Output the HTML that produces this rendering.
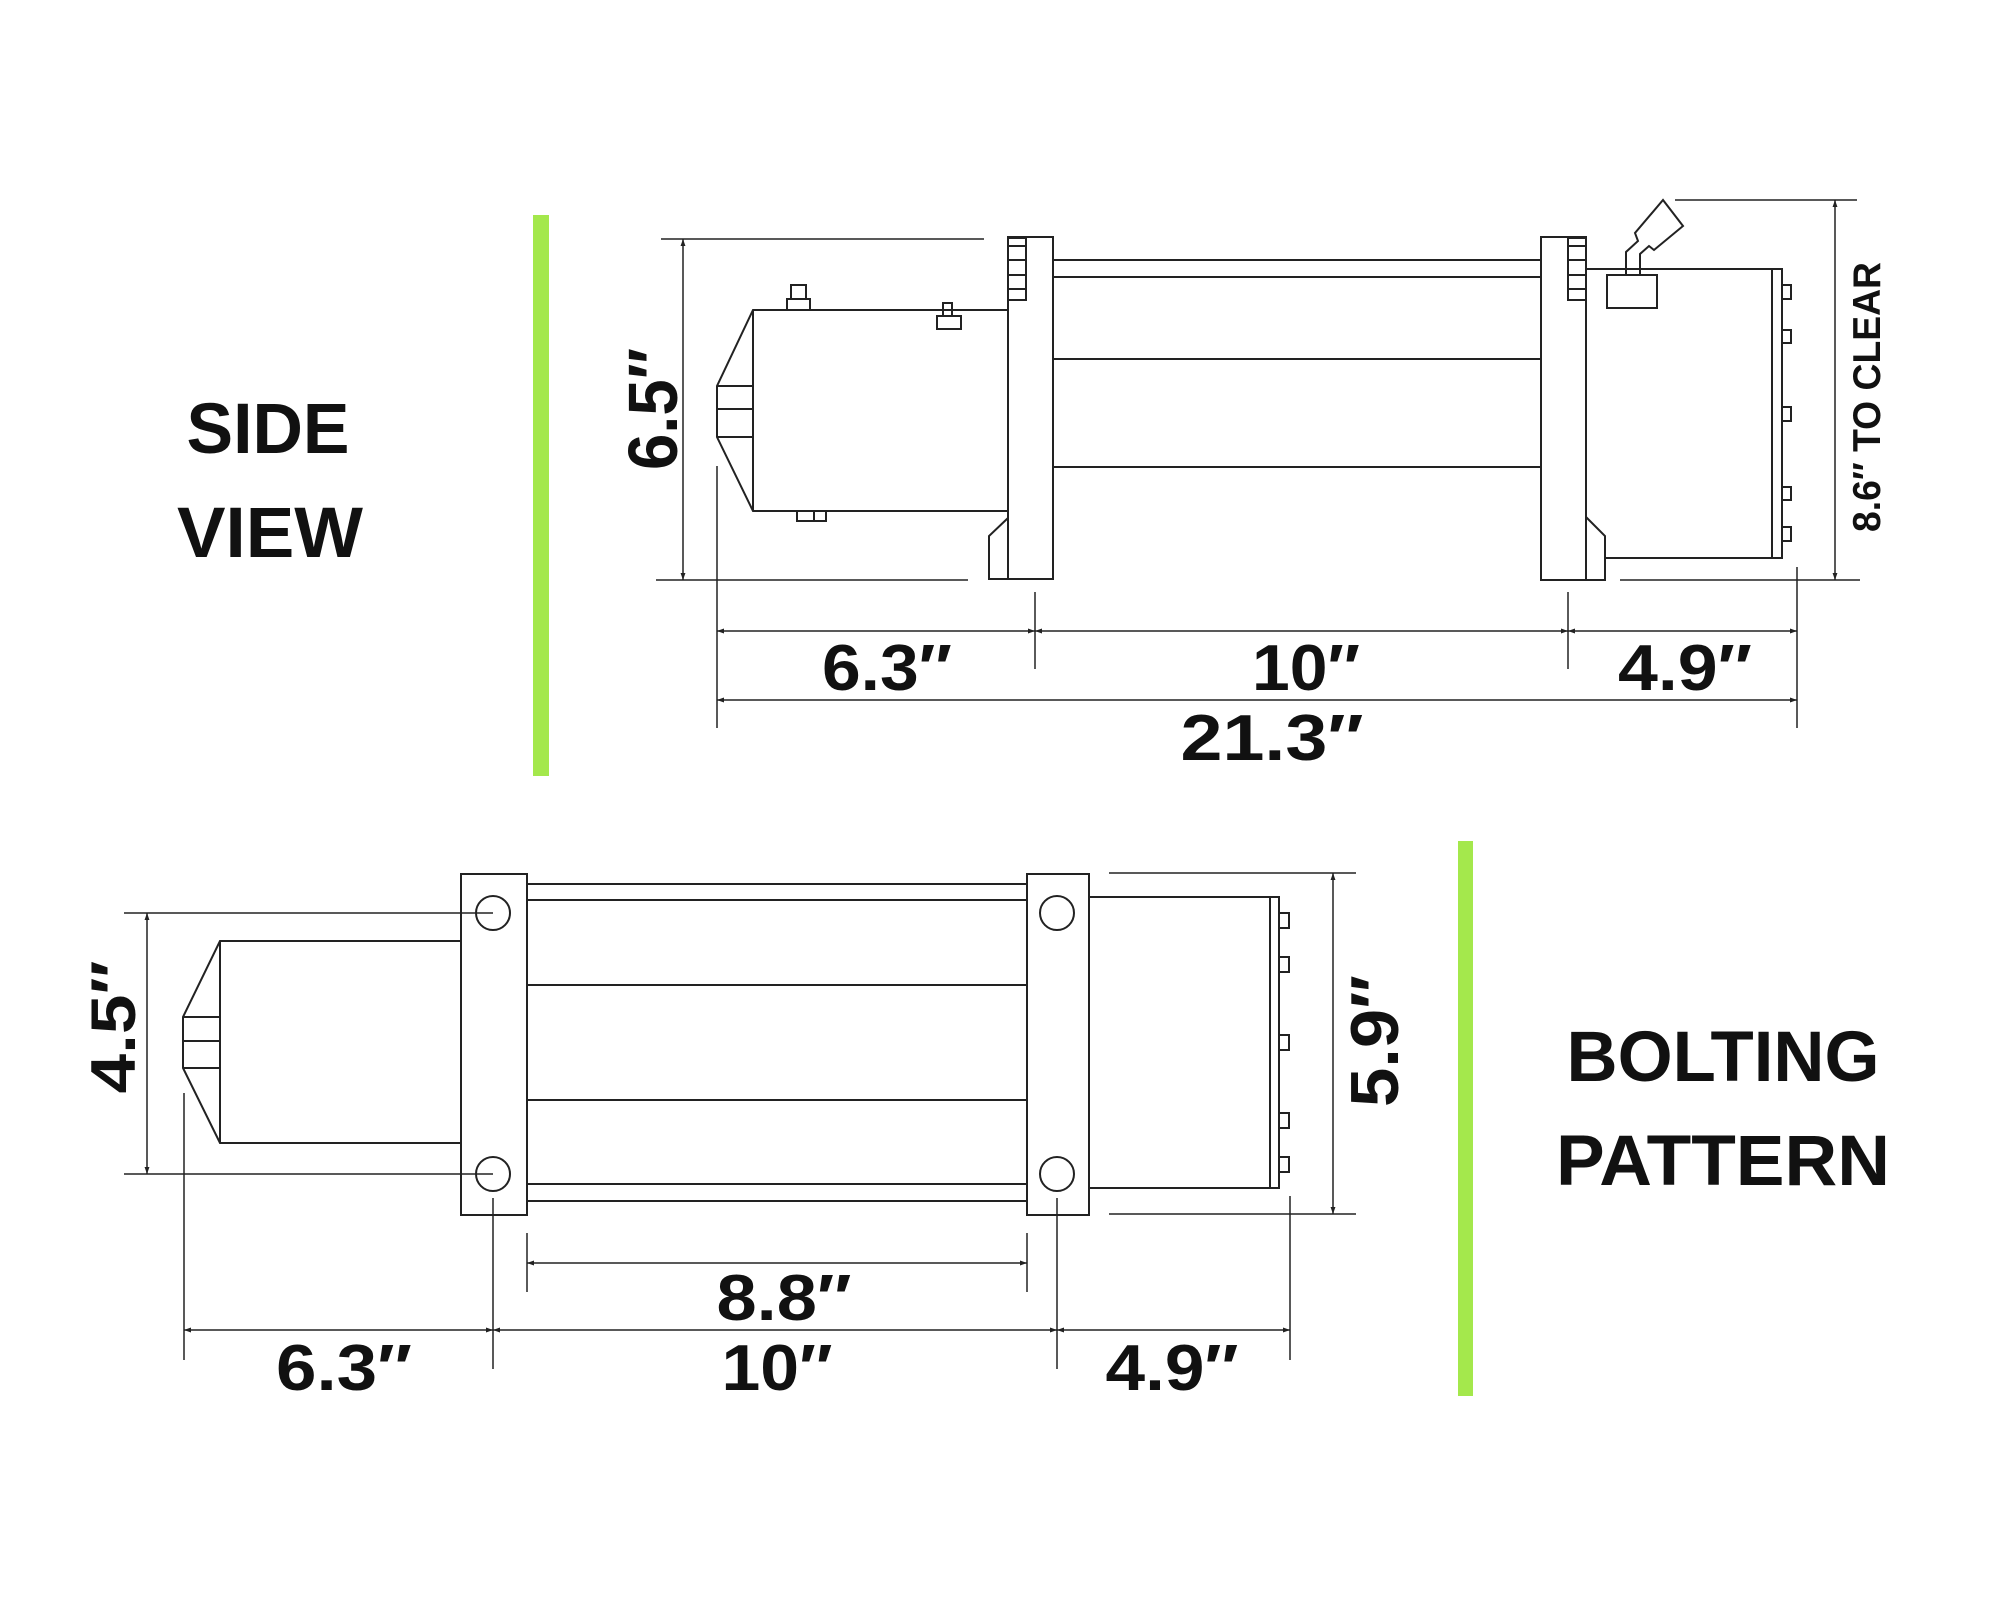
<!DOCTYPE html>
<html><head><meta charset="utf-8"><style>
html,body{margin:0;padding:0;background:#fff;}
svg{display:block;}
text{font-family:"Liberation Sans",Arial,sans-serif;font-weight:bold;fill:#111;}
</style></head><body>
<svg width="2000" height="1600" viewBox="0 0 2000 1600" xmlns="http://www.w3.org/2000/svg">
<defs>
<marker id="a" viewBox="0 0 10 10" refX="10" refY="5" markerWidth="7" markerHeight="7" orient="auto-start-reverse" markerUnits="userSpaceOnUse"><path d="M0,1.5 L10,5 L0,8.5 z" fill="#222"/></marker>
</defs>
<rect width="2000" height="1600" fill="#fff"/>
<!-- green bars -->
<rect x="533" y="215" width="16" height="561" fill="#a4e84c"/>
<rect x="1458" y="841" width="15" height="555" fill="#a4e84c"/>

<!-- titles -->
<text x="268" y="453" font-size="71" text-anchor="middle" textLength="163" lengthAdjust="spacingAndGlyphs">SIDE</text>
<text x="270" y="557" font-size="71" text-anchor="middle" textLength="186" lengthAdjust="spacingAndGlyphs">VIEW</text>
<text x="1723" y="1081" font-size="71" text-anchor="middle" textLength="313" lengthAdjust="spacingAndGlyphs">BOLTING</text>
<text x="1723" y="1185" font-size="71" text-anchor="middle" textLength="334" lengthAdjust="spacingAndGlyphs">PATTERN</text>

<g fill="none" stroke="#222" stroke-width="2">
<!-- ===== SIDE VIEW ===== -->
<path d="M1008,310 L753,310 L717,386 L717,437 L753,511 L1008,511"/>
<line x1="753" y1="310" x2="753" y2="511"/>
<line x1="717" y1="386" x2="753" y2="386"/>
<line x1="717" y1="409" x2="753" y2="409"/>
<line x1="717" y1="437" x2="753" y2="437"/>
<rect x="787" y="299" width="23" height="11"/>
<rect x="791" y="285" width="15" height="14"/>
<rect x="937" y="316" width="24" height="13"/>
<rect x="943" y="303" width="9" height="13"/>
<rect x="797" y="511" width="29" height="10"/>
<line x1="814" y1="511" x2="814" y2="521"/>
<rect x="1008" y="237" width="45" height="342"/>
<rect x="1008" y="238" width="18" height="62"/>
<line x1="1008" y1="246" x2="1026" y2="246"/>
<line x1="1008" y1="260" x2="1026" y2="260"/>
<line x1="1008" y1="275" x2="1026" y2="275"/>
<line x1="1008" y1="289" x2="1026" y2="289"/>
<path d="M1008,518 L989,536 L989,579 L1008,579"/>
<line x1="1053" y1="260" x2="1541" y2="260"/>
<line x1="1053" y1="277" x2="1541" y2="277"/>
<line x1="1053" y1="359" x2="1541" y2="359"/>
<line x1="1053" y1="467" x2="1541" y2="467"/>
<rect x="1541" y="237" width="45" height="343"/>
<rect x="1568" y="238" width="18" height="62"/>
<line x1="1568" y1="246" x2="1586" y2="246"/>
<line x1="1568" y1="260" x2="1586" y2="260"/>
<line x1="1568" y1="275" x2="1586" y2="275"/>
<line x1="1568" y1="289" x2="1586" y2="289"/>
<path d="M1586,517 L1605,536 L1605,580 L1586,580"/>
<path d="M1586,269 L1782,269 L1782,558 L1605,558"/>
<line x1="1772" y1="269" x2="1772" y2="558"/>
<rect x="1782" y="285" width="9" height="14"/>
<rect x="1782" y="330" width="9" height="13"/>
<rect x="1782" y="407" width="9" height="14"/>
<rect x="1782" y="487" width="9" height="13"/>
<rect x="1782" y="527" width="9" height="14"/>
<rect x="1607" y="275" width="50" height="33"/>
<path d="M1626,275 L1626,252 L1638,241 L1635,233 L1663,200 L1683,226 L1654,250 L1649,246 L1640,254 L1640,275"/>

<line x1="661" y1="239" x2="984" y2="239" stroke-width="1.5"/>
<line x1="656" y1="580" x2="968" y2="580" stroke-width="1.5"/>
<line x1="989" y1="579" x2="1053" y2="579"/>
<line x1="1620" y1="580" x2="1860" y2="580" stroke-width="1.5"/>
<line x1="1675" y1="200" x2="1857" y2="200" stroke-width="1.5"/>
<line x1="683" y1="239" x2="683" y2="580" stroke-width="1.5" marker-start="url(#a)" marker-end="url(#a)"/>
<line x1="1835" y1="200" x2="1835" y2="580" stroke-width="1.5" marker-start="url(#a)" marker-end="url(#a)"/>
<line x1="717" y1="466" x2="717" y2="728" stroke-width="1.5"/>
<line x1="1797" y1="567" x2="1797" y2="728" stroke-width="1.5"/>
<line x1="1035" y1="592" x2="1035" y2="669" stroke-width="1.5"/>
<line x1="1568" y1="592" x2="1568" y2="669" stroke-width="1.5"/>
<line x1="717" y1="631" x2="1035" y2="631" stroke-width="1.5" marker-start="url(#a)" marker-end="url(#a)"/>
<line x1="1035" y1="631" x2="1568" y2="631" stroke-width="1.5" marker-start="url(#a)" marker-end="url(#a)"/>
<line x1="1568" y1="631" x2="1797" y2="631" stroke-width="1.5" marker-start="url(#a)" marker-end="url(#a)"/>
<line x1="717" y1="700" x2="1797" y2="700" stroke-width="1.5" marker-start="url(#a)" marker-end="url(#a)"/>

<!-- ===== BOLTING PATTERN ===== -->
<path d="M461,941 L220,941 L183,1017 L183,1068 L220,1143 L461,1143"/>
<line x1="220" y1="941" x2="220" y2="1143"/>
<line x1="183" y1="1017" x2="220" y2="1017"/>
<line x1="183" y1="1041" x2="220" y2="1041"/>
<line x1="183" y1="1068" x2="220" y2="1068"/>
<rect x="461" y="874" width="66" height="341"/>
<circle cx="493" cy="913" r="17"/>
<circle cx="493" cy="1174" r="17"/>
<line x1="527" y1="884" x2="1027" y2="884"/>
<line x1="527" y1="900" x2="1027" y2="900"/>
<line x1="527" y1="985" x2="1027" y2="985"/>
<line x1="527" y1="1100" x2="1027" y2="1100"/>
<line x1="527" y1="1184" x2="1027" y2="1184"/>
<line x1="527" y1="1201" x2="1027" y2="1201"/>
<rect x="1027" y="874" width="62" height="341"/>
<circle cx="1057" cy="913" r="17"/>
<circle cx="1057" cy="1174" r="17"/>
<path d="M1089,897 L1279,897 L1279,1188 L1089,1188"/>
<line x1="1270" y1="897" x2="1270" y2="1188"/>
<rect x="1279" y="913" width="10" height="15"/>
<rect x="1279" y="957" width="10" height="15"/>
<rect x="1279" y="1035" width="10" height="15"/>
<rect x="1279" y="1113" width="10" height="15"/>
<rect x="1279" y="1157" width="10" height="15"/>

<line x1="124" y1="913" x2="493" y2="913" stroke-width="1.5"/>
<line x1="124" y1="1174" x2="493" y2="1174" stroke-width="1.5"/>
<line x1="147" y1="913" x2="147" y2="1174" stroke-width="1.5" marker-start="url(#a)" marker-end="url(#a)"/>
<line x1="1109" y1="873" x2="1356" y2="873" stroke-width="1.5"/>
<line x1="1109" y1="1214" x2="1356" y2="1214" stroke-width="1.5"/>
<line x1="1333" y1="873" x2="1333" y2="1214" stroke-width="1.5" marker-start="url(#a)" marker-end="url(#a)"/>
<line x1="184" y1="1093" x2="184" y2="1360" stroke-width="1.5"/>
<line x1="493" y1="1198" x2="493" y2="1369" stroke-width="1.5"/>
<line x1="1057" y1="1198" x2="1057" y2="1369" stroke-width="1.5"/>
<line x1="1290" y1="1196" x2="1290" y2="1360" stroke-width="1.5"/>
<line x1="527" y1="1233" x2="527" y2="1292" stroke-width="1.5"/>
<line x1="1027" y1="1233" x2="1027" y2="1292" stroke-width="1.5"/>
<line x1="527" y1="1263" x2="1027" y2="1263" stroke-width="1.5" marker-start="url(#a)" marker-end="url(#a)"/>
<line x1="184" y1="1330" x2="493" y2="1330" stroke-width="1.5" marker-start="url(#a)" marker-end="url(#a)"/>
<line x1="493" y1="1330" x2="1057" y2="1330" stroke-width="1.5" marker-start="url(#a)" marker-end="url(#a)"/>
<line x1="1057" y1="1330" x2="1290" y2="1330" stroke-width="1.5" marker-start="url(#a)" marker-end="url(#a)"/>
</g>

<text x="887" y="690" font-size="65" text-anchor="middle" textLength="130" lengthAdjust="spacingAndGlyphs">6.3″</text>
<text x="1306" y="690" font-size="65" text-anchor="middle" textLength="108" lengthAdjust="spacingAndGlyphs">10″</text>
<text x="1685" y="690" font-size="65" text-anchor="middle" textLength="134" lengthAdjust="spacingAndGlyphs">4.9″</text>
<text x="1272" y="760" font-size="65" text-anchor="middle" textLength="183" lengthAdjust="spacingAndGlyphs">21.3″</text>
<text x="784" y="1320" font-size="65" text-anchor="middle" textLength="135" lengthAdjust="spacingAndGlyphs">8.8″</text>
<text x="344" y="1390" font-size="65" text-anchor="middle" textLength="136" lengthAdjust="spacingAndGlyphs">6.3″</text>
<text x="777" y="1390" font-size="65" text-anchor="middle" textLength="111" lengthAdjust="spacingAndGlyphs">10″</text>
<text x="1172" y="1390" font-size="65" text-anchor="middle" textLength="133" lengthAdjust="spacingAndGlyphs">4.9″</text>
<text transform="translate(677,409) rotate(-90)" font-size="70" text-anchor="middle" textLength="122" lengthAdjust="spacingAndGlyphs">6.5″</text>
<text transform="translate(135,1027) rotate(-90)" font-size="63" text-anchor="middle" textLength="133" lengthAdjust="spacingAndGlyphs">4.5″</text>
<text transform="translate(1398,1041) rotate(-90)" font-size="68" text-anchor="middle" textLength="132" lengthAdjust="spacingAndGlyphs">5.9″</text>
<text transform="translate(1880,397) rotate(-90)" font-size="39" text-anchor="middle" textLength="270" lengthAdjust="spacingAndGlyphs">8.6″ TO CLEAR</text>
</svg>
</body></html>
